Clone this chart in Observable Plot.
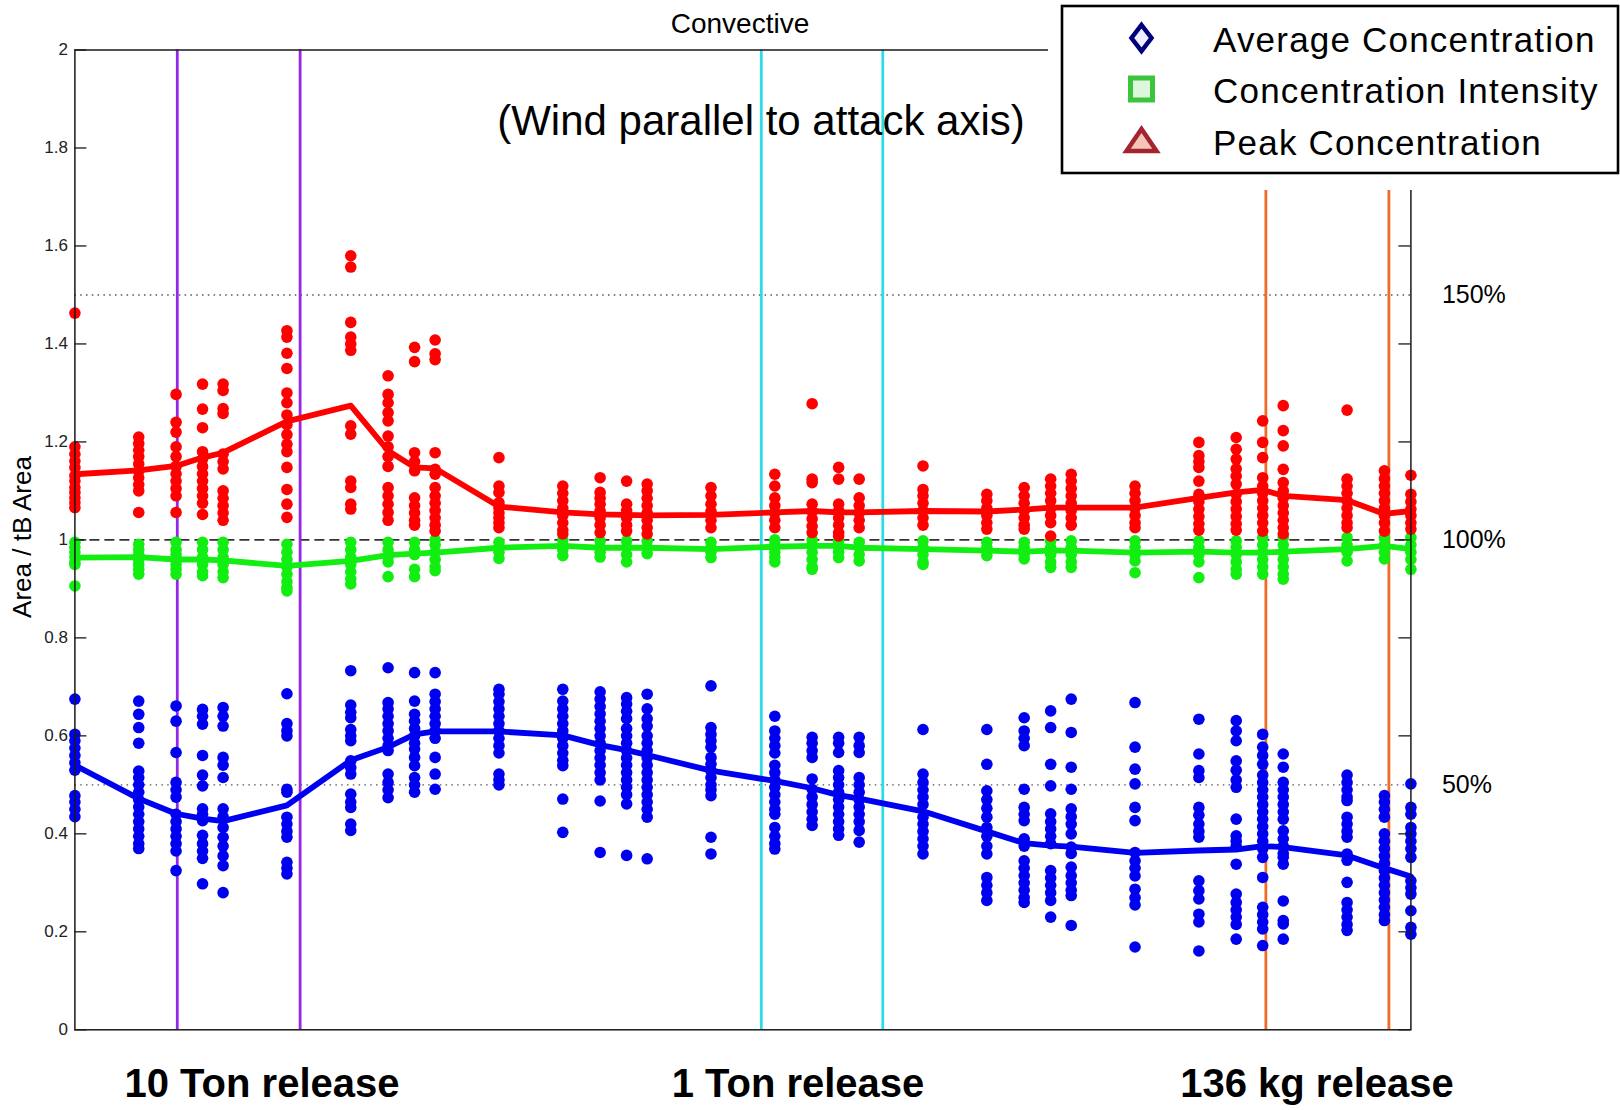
<!DOCTYPE html>
<html><head><meta charset="utf-8">
<script src="https://cdn.jsdelivr.net/npm/d3@7"></script>
<script src="https://cdn.jsdelivr.net/npm/@observablehq/plot@0.6"></script>
<style>
html,body{margin:0;padding:0;background:#fff;}
#chart{position:relative;width:1620px;height:1110px;}
</style></head><body><div id="chart"></div>
<script>
// ---- data ----
const xs = [1,2,3,4,5,10,20,30,40,50,100,200,300,400,500,1000,2000,3000,4000,5000,1e4,2e4,3e4,4e4,5e4,1e5,2e5,3e5,4e5,5e5,1e6,1.5e6,2e6];

const peakPts = [
  [1.463,1.19,1.175,1.161,1.148,1.131,1.12,1.107,1.097,1.086,1.076,1.066],
  [1.21,1.197,1.183,1.17,1.155,1.14,1.127,1.113,1.10,1.056],
  [1.297,1.24,1.22,1.19,1.17,1.15,1.135,1.12,1.105,1.09,1.056],
  [1.318,1.267,1.229,1.18,1.165,1.15,1.135,1.12,1.105,1.09,1.075,1.052],
  [1.318,1.305,1.268,1.258,1.175,1.16,1.145,1.1,1.085,1.07,1.055,1.04],
  [1.427,1.414,1.381,1.35,1.3,1.28,1.255,1.235,1.215,1.195,1.18,1.148,1.103,1.073,1.046],
  [1.58,1.557,1.444,1.414,1.40,1.387,1.233,1.216,1.12,1.107,1.073,1.063],
  [1.335,1.297,1.28,1.26,1.243,1.212,1.19,1.17,1.15,1.107,1.09,1.073,1.056,1.04],
  [1.393,1.364,1.178,1.16,1.141,1.086,1.07,1.055,1.04,1.03],
  [1.408,1.38,1.368,1.178,1.144,1.134,1.107,1.09,1.075,1.06,1.045,1.03,1.018],
  [1.168,1.11,1.097,1.076,1.065,1.055,1.045,1.035,1.025],
  [1.11,1.095,1.08,1.065,1.05,1.035,1.02,1.012],
  [1.127,1.097,1.085,1.073,1.059,1.045,1.03,1.015],
  [1.12,1.073,1.06,1.045,1.03,1.018],
  [1.114,1.1,1.085,1.07,1.055,1.04,1.025,1.012],
  [1.107,1.09,1.073,1.058,1.04,1.025],
  [1.134,1.11,1.086,1.07,1.055,1.04,1.025],
  [1.278,1.124,1.117,1.073,1.058,1.043,1.028,1.015],
  [1.148,1.124,1.073,1.06,1.045,1.03,1.015,1.008],
  [1.124,1.086,1.07,1.055,1.04,1.025],
  [1.151,1.103,1.09,1.075,1.06,1.045,1.03],
  [1.093,1.08,1.065,1.05,1.035,1.022],
  [1.107,1.09,1.075,1.06,1.045,1.03,1.022],
  [1.124,1.11,1.095,1.08,1.065,1.05,1.035,1.008],
  [1.134,1.12,1.105,1.09,1.075,1.06,1.045,1.03],
  [1.11,1.095,1.08,1.065,1.05,1.035,1.025],
  [1.199,1.172,1.16,1.148,1.12,1.093,1.078,1.063,1.048,1.033,1.02],
  [1.209,1.185,1.165,1.145,1.13,1.114,1.093,1.078,1.063,1.048,1.033,1.02],
  [1.243,1.199,1.168,1.127,1.11,1.095,1.08,1.065,1.05,1.035,1.018],
  [1.274,1.223,1.192,1.144,1.117,1.1,1.085,1.07,1.055,1.04,1.025,1.012],
  [1.265,1.124,1.11,1.095,1.08,1.065,1.05,1.035,1.025],
  [1.141,1.125,1.11,1.095,1.08,1.065,1.05,1.035,1.018],
  [1.132,1.093,1.078,1.063,1.05,1.035,1.022]
];

const intensityPts = [
  [0.995,0.985,0.975,0.965,0.955,0.95,0.906],
  [0.991,0.98,0.97,0.96,0.95,0.94,0.93],
  [0.995,0.98,0.97,0.96,0.95,0.94,0.93],
  [0.995,0.98,0.965,0.95,0.935,0.927],
  [0.995,0.98,0.965,0.95,0.935,0.923],
  [0.991,0.975,0.96,0.945,0.93,0.915,0.903,0.896],
  [0.995,0.98,0.965,0.95,0.935,0.92,0.91],
  [0.995,0.98,0.965,0.955,0.925],
  [0.995,0.98,0.97,0.94,0.925],
  [1.0,0.99,0.975,0.96,0.945,0.937],
  [0.995,0.985,0.975,0.962],
  [1.0,0.99,0.98,0.968],
  [0.998,0.985,0.975,0.965],
  [0.998,0.985,0.97,0.955],
  [0.998,0.985,0.972],
  [0.995,0.985,0.975,0.964],
  [1.0,0.99,0.975,0.965,0.955],
  [1.0,0.99,0.975,0.96,0.945,0.94],
  [0.998,0.985,0.975,0.964],
  [0.995,0.985,0.97,0.957],
  [0.998,0.985,0.97,0.955,0.95],
  [0.995,0.985,0.968],
  [0.995,0.985,0.97,0.961],
  [0.998,0.985,0.97,0.955,0.944],
  [0.998,0.985,0.97,0.955,0.944],
  [0.998,0.985,0.97,0.957,0.933],
  [0.998,0.985,0.97,0.955,0.923],
  [0.998,0.985,0.97,0.955,0.94,0.93],
  [1.005,0.99,0.975,0.96,0.945,0.93],
  [1.005,0.99,0.975,0.96,0.945,0.93,0.92],
  [1.005,0.99,0.975,0.957],
  [1.005,0.99,0.975,0.961],
  [1.005,0.99,0.975,0.96,0.94]
];

const averagePts = [
  [0.675,0.603,0.59,0.575,0.56,0.545,0.53,0.478,0.465,0.45,0.435],
  [0.671,0.644,0.617,0.585,0.528,0.515,0.5,0.485,0.47,0.455,0.44,0.425,0.41,0.395,0.38,0.37],
  [0.661,0.63,0.566,0.505,0.49,0.475,0.44,0.425,0.41,0.395,0.38,0.365,0.325],
  [0.654,0.64,0.624,0.56,0.52,0.498,0.451,0.44,0.427,0.397,0.38,0.365,0.35,0.298],
  [0.658,0.64,0.62,0.556,0.54,0.515,0.451,0.435,0.413,0.393,0.375,0.355,0.335,0.28],
  [0.686,0.625,0.61,0.6,0.491,0.485,0.434,0.42,0.405,0.393,0.342,0.33,0.318],
  [0.733,0.663,0.648,0.637,0.613,0.6,0.59,0.549,0.535,0.522,0.481,0.465,0.454,0.42,0.407],
  [0.739,0.668,0.655,0.64,0.625,0.61,0.595,0.58,0.57,0.522,0.505,0.49,0.474],
  [0.729,0.671,0.644,0.63,0.615,0.6,0.585,0.573,0.556,0.539,0.515,0.5,0.485],
  [0.729,0.685,0.67,0.655,0.64,0.625,0.61,0.595,0.556,0.522,0.491],
  [0.695,0.685,0.67,0.655,0.64,0.625,0.61,0.595,0.58,0.565,0.522,0.51,0.5],
  [0.695,0.671,0.655,0.64,0.625,0.61,0.595,0.58,0.565,0.55,0.539,0.471,0.403],
  [0.69,0.675,0.66,0.645,0.63,0.615,0.6,0.585,0.57,0.555,0.54,0.525,0.51,0.467,0.362],
  [0.678,0.665,0.65,0.635,0.615,0.6,0.585,0.57,0.555,0.54,0.525,0.51,0.495,0.48,0.461,0.356],
  [0.685,0.655,0.635,0.62,0.6,0.585,0.57,0.555,0.54,0.525,0.51,0.495,0.48,0.465,0.45,0.434,0.349],
  [0.702,0.617,0.603,0.59,0.577,0.556,0.542,0.529,0.515,0.5,0.49,0.478,0.393,0.359],
  [0.64,0.61,0.595,0.58,0.565,0.54,0.525,0.51,0.495,0.48,0.465,0.45,0.44,0.413,0.395,0.38,0.369],
  [0.597,0.585,0.57,0.556,0.512,0.491,0.475,0.46,0.445,0.43,0.417],
  [0.597,0.585,0.566,0.529,0.515,0.5,0.485,0.47,0.455,0.44,0.425,0.41,0.397],
  [0.597,0.58,0.566,0.515,0.5,0.485,0.47,0.455,0.44,0.425,0.407,0.383],
  [0.613,0.522,0.505,0.49,0.475,0.46,0.434,0.42,0.405,0.39,0.375,0.359],
  [0.613,0.542,0.488,0.47,0.452,0.434,0.413,0.395,0.375,0.359,0.311,0.295,0.28,0.264],
  [0.637,0.61,0.595,0.58,0.491,0.454,0.44,0.427,0.39,0.375,0.345,0.33,0.315,0.3,0.285,0.27,0.26],
  [0.651,0.617,0.542,0.498,0.441,0.425,0.41,0.395,0.38,0.325,0.31,0.295,0.28,0.264,0.23],
  [0.675,0.607,0.536,0.491,0.451,0.435,0.42,0.4,0.373,0.36,0.332,0.315,0.3,0.285,0.274,0.213],
  [0.668,0.577,0.532,0.502,0.454,0.427,0.362,0.345,0.33,0.314,0.287,0.27,0.255,0.169],
  [0.634,0.563,0.529,0.515,0.454,0.438,0.42,0.405,0.393,0.304,0.284,0.267,0.236,0.22,0.161],
  [0.631,0.61,0.59,0.549,0.53,0.51,0.495,0.43,0.396,0.385,0.375,0.338,0.277,0.26,0.245,0.23,0.215,0.185],
  [0.603,0.577,0.56,0.542,0.52,0.505,0.49,0.475,0.46,0.445,0.43,0.415,0.4,0.385,0.37,0.352,0.311,0.25,0.235,0.22,0.206,0.172],
  [0.563,0.536,0.505,0.49,0.475,0.46,0.445,0.43,0.406,0.39,0.375,0.36,0.352,0.338,0.263,0.223,0.216,0.185],
  [0.52,0.505,0.49,0.475,0.468,0.434,0.42,0.405,0.393,0.359,0.346,0.301,0.26,0.245,0.23,0.215,0.203],
  [0.478,0.465,0.45,0.434,0.4,0.385,0.37,0.355,0.34,0.325,0.31,0.295,0.28,0.265,0.25,0.235,0.223],
  [0.502,0.454,0.44,0.413,0.4,0.385,0.37,0.352,0.304,0.29,0.277,0.243,0.209,0.195]
];

const peakLine = [1.134,1.142,1.151,1.168,1.178,1.242,1.274,1.182,1.148,1.146,1.068,1.056,1.052,1.051,1.050,1.051,1.056,1.059,1.056,1.056,1.059,1.058,1.062,1.066,1.066,1.066,1.086,1.097,1.102,1.090,1.081,1.053,1.059];
const intensityLine = [0.964,0.965,0.960,0.960,0.958,0.947,0.957,0.969,0.972,0.974,0.984,0.988,0.984,0.984,0.984,0.981,0.986,0.988,0.988,0.984,0.981,0.978,0.976,0.978,0.978,0.974,0.976,0.974,0.974,0.976,0.981,0.988,0.981];
const averageLine = [0.540,0.472,0.441,0.431,0.426,0.458,0.550,0.577,0.603,0.609,0.609,0.601,0.581,0.571,0.561,0.529,0.508,0.493,0.479,0.472,0.446,0.405,0.381,0.376,0.374,0.361,0.366,0.368,0.375,0.373,0.356,0.330,0.313];

const yTicks = [0,0.2,0.4,0.6,0.8,1,1.2,1.4,1.6,1.8,2];
const pctTicks = [0.5,1,1.5];
const refDotted = [0.5,1.5];
const refDashed = [1];
const purpleBand = [3.04, 11.54];
const cyanBand = [1727, 6460];
const orangeBand = [4.14e5, 1.575e6];

const titleText = "Convective";
const noteText = "(Wind parallel to attack axis)";
const yLabel = "Area / tB Area";
const legendLabels = ["Average Concentration","Concentration Intensity","Peak Concentration"];
const releaseLabels = ["10 Ton release","1 Ton release","136 kg release"];

// ---- build rows ----
const toRows = (pts) => pts.flatMap((col, i) => col.map(v => ({x: xs[i], y: v})));
const toLine = (vals) => vals.map((v, i) => ({x: xs[i], y: v}));

// ---- layout ----
const W = 1620, H = 1110;
const mL = 74.4, mR = 209.6, mT = 49.5, mB = 80.7;
const plotW = W - mL - mR;
const FONT = "Liberation Sans, Arial, Helvetica, sans-serif";

const BLUE = "#0000f0", GREEN = "#12ee12", RED = "#ff0000";
const R = 5.8, LW = 5.8;

const plot = Plot.plot({
  width: W, height: H,
  marginLeft: mL, marginRight: mR, marginTop: mT, marginBottom: mB,
  x: {type: "log", domain: [1, 2e6], axis: null},
  y: {domain: [0, 2], axis: null},
  style: {fontFamily: FONT, background: "white", overflow: "visible"},
  marks: [
    Plot.ruleY(refDotted, {stroke: "#555", strokeWidth: 1.4, strokeDasharray: "1.5,4.3"}),
    Plot.ruleY(refDashed, {stroke: "#333", strokeWidth: 1.6, strokeDasharray: "10,5"}),
    Plot.ruleX(purpleBand, {stroke: "#9428e8", strokeWidth: 2.8}),
    Plot.ruleX(cyanBand, {stroke: "#2ddbe6", strokeWidth: 2.8}),
    Plot.ruleX(orangeBand, {stroke: "#f06a28", strokeWidth: 2.8}),
    Plot.dot(toRows(averagePts), {x: "x", y: "y", r: R, fill: BLUE}),
    Plot.line(toLine(averageLine), {x: "x", y: "y", stroke: BLUE, strokeWidth: LW}),
    Plot.dot(toRows(intensityPts), {x: "x", y: "y", r: R, fill: GREEN}),
    Plot.line(toLine(intensityLine), {x: "x", y: "y", stroke: GREEN, strokeWidth: LW}),
    Plot.dot(toRows(peakPts), {x: "x", y: "y", r: R, fill: RED}),
    Plot.line(toLine(peakLine), {x: "x", y: "y", stroke: RED, strokeWidth: LW}),
    Plot.frame({stroke: "#1a1a1a", strokeWidth: 1.5}),
    Plot.tickY(yTicks, {insetRight: plotW - 12, stroke: "#1a1a1a", strokeWidth: 1.3}),
    Plot.tickY(yTicks, {insetLeft: plotW - 12, stroke: "#1a1a1a", strokeWidth: 1.3}),
    Plot.axisY(yTicks, {anchor: "left", tickSize: 0, tickPadding: 7, fontSize: 17, fill: "#222", label: null,
      tickFormat: d => String(d)}),
    Plot.axisY(pctTicks, {anchor: "right", tickSize: 0, tickPadding: 31, fontSize: 25, fill: "#000",
      tickFormat: d => `${Math.round(d * 100)}%`, label: null})
  ]
});

document.getElementById("chart").appendChild(plot);

// ---- annotations (text) ----
const svg = d3.select(plot);
const txt = (x, y, s, size, opts = {}) => svg.append("text")
  .attr("x", x).attr("y", y)
  .attr("text-anchor", opts.anchor || "middle")
  .attr("font-family", FONT)
  .attr("font-size", size)
  .attr("font-weight", opts.weight || "normal")
  .attr("letter-spacing", opts.ls || 0)
  .attr("fill", "#000")
  .text(s);

txt(740, 33, titleText, 28);
txt(761, 135, noteText, 42);
svg.append("text")
  .attr("transform", "translate(31,537) rotate(-90)")
  .attr("text-anchor", "middle")
  .attr("font-family", FONT).attr("font-size", 26).attr("fill", "#000")
  .text(yLabel);

const releaseCenters = [262, 798, 1317];
releaseLabels.forEach((s, i) => txt(releaseCenters[i], 1097, s, 40, {weight: "bold"}));

// ---- legend ----
const lg = svg.append("g");
lg.append("rect").attr("x", 1048).attr("y", 0).attr("width", 572).attr("height", 190).attr("fill", "white");
lg.append("rect").attr("x", 1062).attr("y", 6).attr("width", 556).attr("height", 167)
  .attr("fill", "white").attr("stroke", "#000").attr("stroke-width", 2.6);
const rowsY = [52, 103, 155];
const mx = 1141.5;
lg.append("path").attr("d", `M${mx},${38-13} L${mx+10},38 L${mx},${38+13} L${mx-10},38 Z`)
  .attr("fill", "#eef").attr("stroke", "#00007a").attr("stroke-width", 4.5);
lg.append("rect").attr("x", mx - 11).attr("y", 89 - 11).attr("width", 22).attr("height", 22)
  .attr("fill", "#dcf7dc").attr("stroke", "#3cc43c").attr("stroke-width", 5);
lg.append("path").attr("d", `M${mx},${141-12} L${mx+15},${141+10} L${mx-15},${141+10} Z`)
  .attr("fill", "#f7c4b8").attr("stroke", "#a3242e").attr("stroke-width", 4.5).attr("stroke-linejoin", "miter");
legendLabels.forEach((s, i) => txt(1213, rowsY[i], s, 35, {anchor: "start", ls: 1.2}));
</script>
</body></html>
